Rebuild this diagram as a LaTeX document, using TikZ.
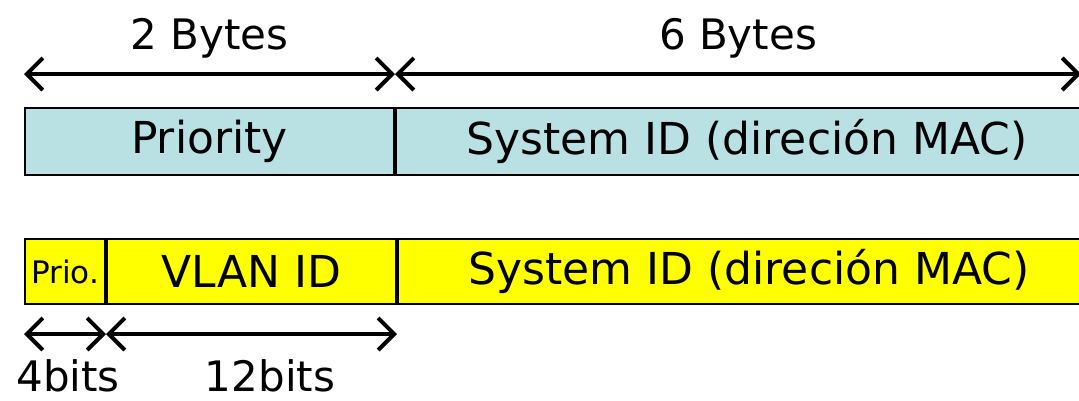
\documentclass[tikz,border=0pt]{standalone}
\usepackage{fontspec}
\setmainfont{DejaVu Sans}
\usetikzlibrary{arrows.meta,positioning}
\definecolor{fieldblue}{RGB}{185,224,227}
\definecolor{fieldyellow}{RGB}{255,255,0}
\tikzset{
  field/.style={draw,line width=2pt,inner sep=0pt,minimum height=67pt,
    font=\fontsize{44}{50}\selectfont},
  span/.style={line width=4pt,{Straight Barb[length=16pt,width=32pt]}-{Straight Barb[length=16pt,width=32pt]}},
  size/.style={font=\fontsize{42}{48}\selectfont,inner sep=0pt}
}
\begin{document}
\begin{tikzpicture}[x=1pt,y=-1pt]
    \useasboundingbox (0,0) rectangle (1079,400);
    % bridge id
    \node [field,fill=fieldblue,minimum width=369pt,anchor=north west] (prio) at (24,107) {Priority} ;
    \node [field,fill=fieldblue,minimum width=720pt,anchor=west] (sysa) at (prio.east) {\hspace*{-18pt}System ID (direción MAC)} ;
    % extended system id
    \node [field,fill=fieldyellow,minimum width=80pt,minimum height=65pt,anchor=north west] (pr) at (24,238) {\fontsize{31}{34}\selectfont Prio.} ;
    \node [field,fill=fieldyellow,minimum width=289pt,minimum height=65pt,anchor=west] (vlan) at (pr.east) {VLAN ID} ;
    \node [field,fill=fieldyellow,minimum width=720pt,minimum height=65pt,anchor=west] (sysb) at (vlan.east) {\hspace*{-18pt}System ID (direción MAC)} ;

    \coordinate [above=33pt of prio.north west] (t0) ;
    \coordinate [above=33pt of prio.north east] (t1) ;
    \coordinate (t2) at (1081,74) ;
    \coordinate [below=29pt of pr.south west] (b0) ;
    \coordinate [below=29pt of pr.south east] (b1) ;
    \coordinate [below=29pt of vlan.south east] (b2) ;

    \draw [span] (t0) -- (t1) node [midway,above=14pt,size] (two) {2 Bytes};
    \draw [span] (t1) -- (t2) node [midway,above=14pt,size] (six) {6 Bytes};
    \draw [span] (b0) -- (b1);
    \draw [span] (b1) -- (b2);

    \node [size,anchor=base] (four) at (68,391) {4bits} ;
    \node [size,anchor=base] (twelve) at (270,391) {12bits} ;
\end{tikzpicture}
\end{document}
